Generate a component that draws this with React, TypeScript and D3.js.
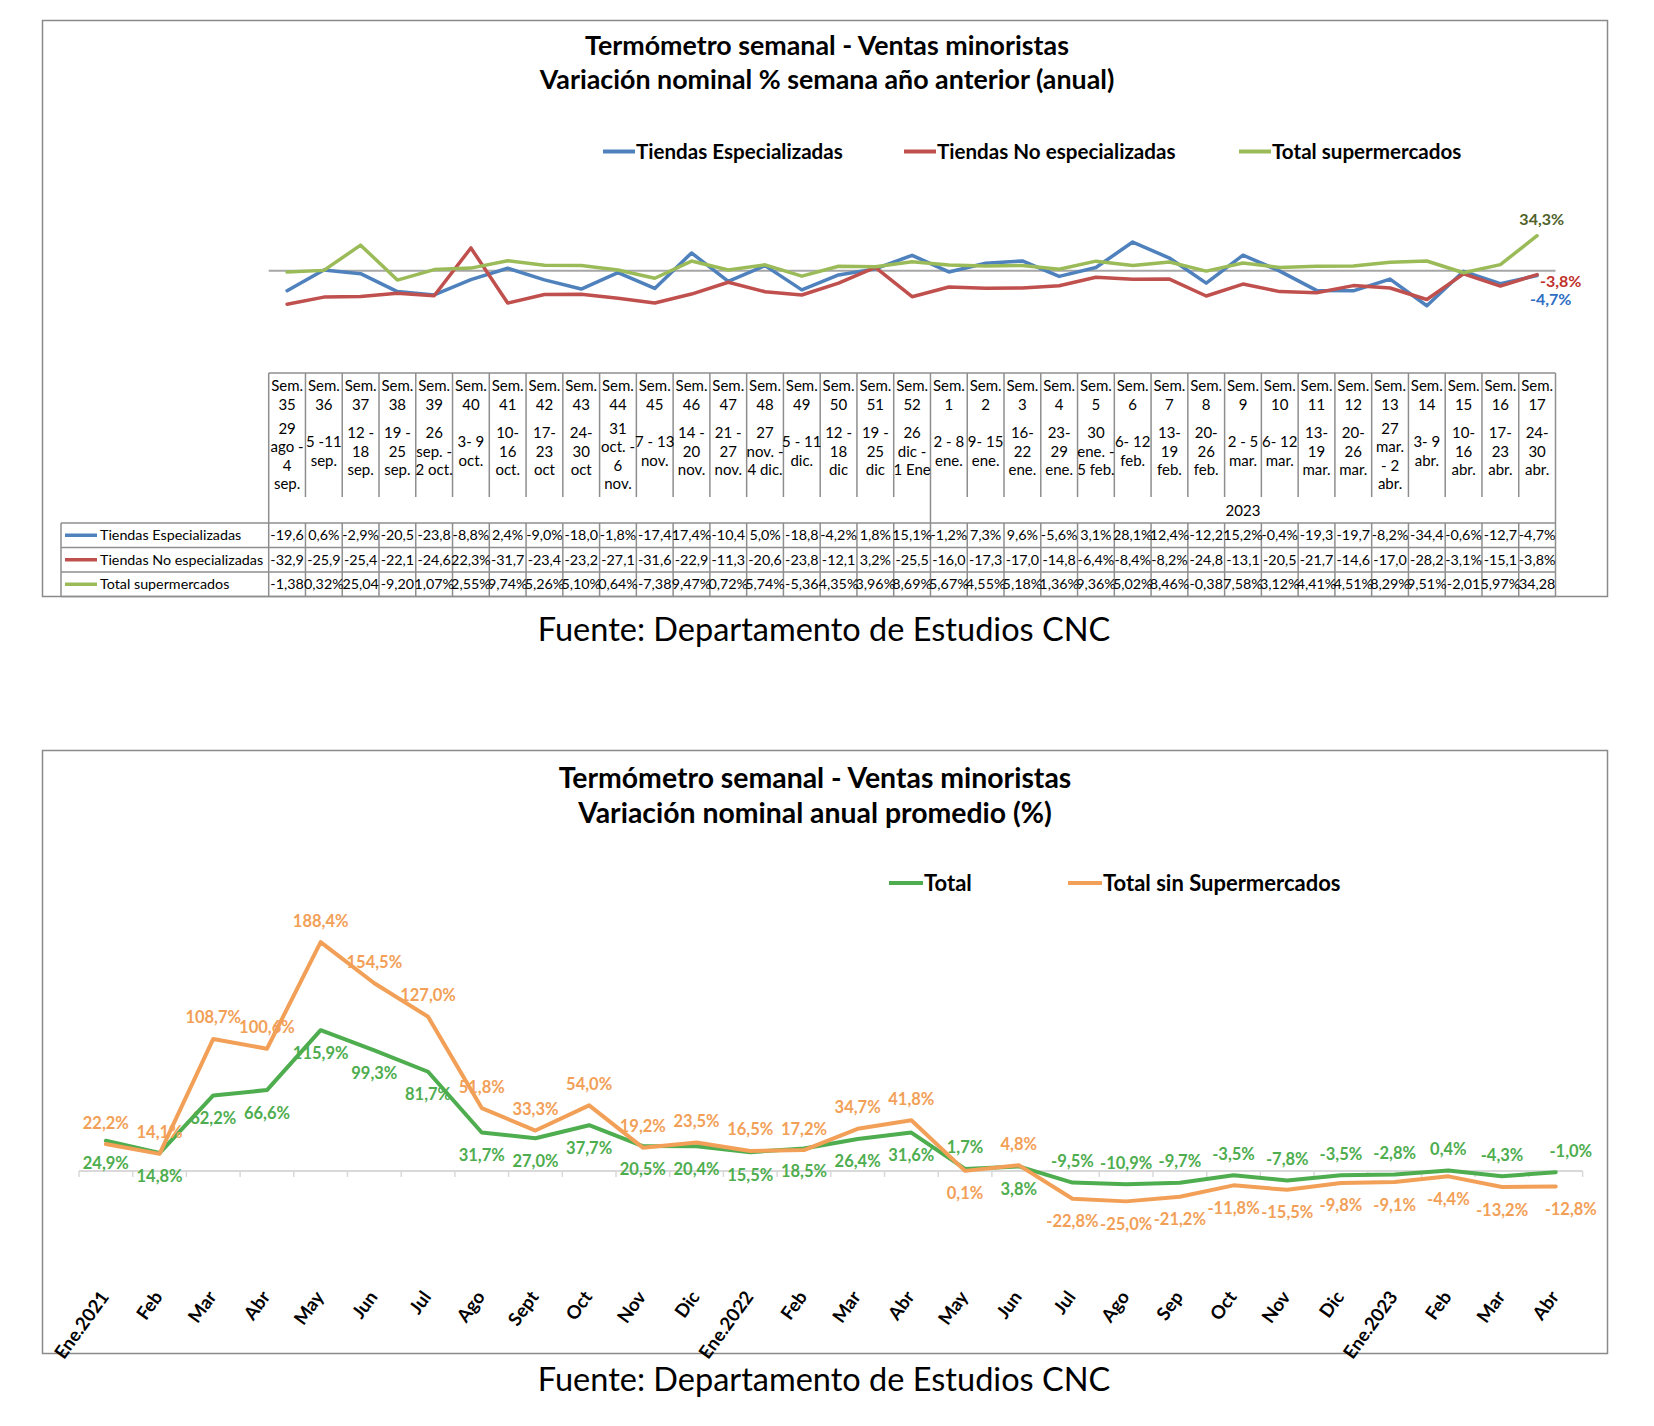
import React from 'react';
import * as d3 from 'd3';

// ---------- Top chart data ----------
const weeks = ['35','36','37','38','39','40','41','42','43','44','45','46','47','48','49','50','51','52',
  '1','2','3','4','5','6','7','8','9','10','11','12','13','14','15','16','17'];
const weekDates: string[][] = [
  ['29','ago -','4','sep.'], ['5 -11','sep.'], ['12 -','18','sep.'], ['19 -','25','sep.'],
  ['26','sep. -','2 oct.'], ['3- 9','oct.'], ['10-','16','oct.'], ['17-','23','oct'],
  ['24-','30','oct'], ['31','oct. -','6','nov.'], ['7 - 13','nov.'], ['14 -','20','nov.'],
  ['21 -','27','nov.'], ['27','nov. -','4 dic.'], ['5 - 11','dic.'], ['12 -','18','dic'],
  ['19 -','25','dic'], ['26','dic -','1 Ene'], ['2 - 8','ene.'], ['9- 15','ene.'],
  ['16-','22','ene.'], ['23-','29','ene.'], ['30','ene. -','5 feb.'], ['6- 12','feb.'],
  ['13-','19','feb.'], ['20-','26','feb.'], ['2 - 5','mar.'], ['6- 12','mar.'],
  ['13-','19','mar.'], ['20-','26','mar.'], ['27','mar.','- 2','abr.'], ['3- 9','abr.'],
  ['10-','16','abr.'], ['17-','23','abr.'], ['24-','30','abr.'],
];
const yearLabel = '2023';
const tiendasEsp = [-19.6, 0.6, -2.9, -20.5, -23.8, -8.8, 2.4, -9.0, -18.0, -1.8, -17.4, 17.4, -10.4, 5.0,
  -18.8, -4.2, 1.8, 15.1, -1.2, 7.3, 9.6, -5.6, 3.1, 28.1, 12.4, -12.2, 15.2, -0.4, -19.3, -19.7, -8.2,
  -34.4, -0.6, -12.7, -4.7];
const tiendasNoEsp = [-32.9, -25.9, -25.4, -22.1, -24.6, 22.3, -31.7, -23.4, -23.2, -27.1, -31.6, -22.9,
  -11.3, -20.6, -23.8, -12.1, 3.2, -25.5, -16.0, -17.3, -17.0, -14.8, -6.4, -8.4, -8.2, -24.8, -13.1,
  -20.5, -21.7, -14.6, -17.0, -28.2, -3.1, -15.1, -3.8];
const totalSuper = [-1.38, 0.32, 25.04, -9.20, 1.07, 2.55, 9.74, 5.26, 5.10, 0.64, -7.38, 9.47, 0.72, 5.74,
  -5.36, 4.35, 3.96, 8.69, 5.67, 4.55, 5.18, 1.36, 9.36, 5.02, 8.46, -0.38, 7.58, 3.12, 4.41, 4.51, 8.29,
  9.51, -2.01, 5.97, 34.28];
const topSeriesNames = ['Tiendas Especializadas', 'Tiendas No especializadas', 'Total supermercados'];

// ---------- Bottom chart data ----------
const months = ['Ene.2021','Feb','Mar','Abr','May','Jun','Jul','Ago','Sept','Oct','Nov','Dic',
  'Ene.2022','Feb','Mar','Abr','May','Jun','Jul','Ago','Sep','Oct','Nov','Dic','Ene.2023','Feb','Mar','Abr'];
const total = [24.9, 14.8, 62.2, 66.6, 115.9, 99.3, 81.7, 31.7, 27.0, 37.7, 20.5, 20.4, 15.5, 18.5, 26.4,
  31.6, 1.7, 3.8, -9.5, -10.9, -9.7, -3.5, -7.8, -3.5, -2.8, 0.4, -4.3, -1.0];
const totalSinSuper = [22.2, 14.1, 108.7, 100.6, 188.4, 154.5, 127.0, 51.8, 33.3, 54.0, 19.2, 23.5, 16.5,
  17.2, 34.7, 41.8, 0.1, 4.8, -22.8, -25.0, -21.2, -11.8, -15.5, -9.8, -9.1, -4.4, -13.2, -12.8];
// label side: 'a' = above point, 'b' = below point
const totalLabelSide = ['b','b','b','b','b','b','b','b','b','b','b','b','b','b','b','b','a','b',
  'a','a','a','a','a','a','a','a','a','a'];
const sinSuperLabelSide = ['a','a','a','a','a','a','a','a','a','a','a','a','a','a','a','a','b','a',
  'b','b','b','b','b','b','b','b','b','b'];
const bottomSeriesNames = ['Total', 'Total sin Supermercados'];

const FONT = "Lato, 'Open Sans', sans-serif";
const fmt = (v: number, d: number) => v.toFixed(d).replace('.', ',') + '%';
const cellText = (s: string) => (s.length > 5 ? s.slice(0, 5) : s);

export default function App() {
  const W = 1654, H = 1426;
  // top chart geometry
  const tLeft = 268.7, tRight = 1555.5, tZero = 270.7;
  const xTop = d3.scaleBand<number>().domain(d3.range(weeks.length)).range([tLeft, tRight]);
  const bw = xTop.bandwidth();
  const cxT = (i: number) => (xTop(i) as number) + bw / 2;
  const yTop = d3.scaleLinear().domain([0, 10]).range([tZero, tZero - 10.2]);
  const lineTop = d3.line<number>().x((_, i) => cxT(i)).y((v) => yTop(v));
  const topColors = ['#4F81BD', '#C0504D', '#9BBB59'];
  const topData = [tiendasEsp, tiendasNoEsp, totalSuper];
  const topDecimals = [1, 1, 2];

  const tableTop = 373, headerBottom = 497, rowsTop = 523, rowH = 24.5;
  const legLeft = 61;
  const gridColor = '#8E8E8E';

  // bottom chart geometry
  const bLeft = 79, bRight = 1582.6, bZero = 1171;
  const xBot = d3.scaleBand<number>().domain(d3.range(months.length)).range([bLeft, bRight]);
  const bbw = xBot.bandwidth();
  const cxB = (i: number) => (xBot(i) as number) + bbw / 2;
  const yBot = d3.scaleLinear().domain([0, 100]).range([bZero, bZero - 121.5]);
  const lineBot = d3.line<number>().x((_, i) => cxB(i)).y((v) => yBot(v));
  const green = '#4EAD4E', orange = '#F2A057';
  const lastIdx = months.length - 1;
  const labelDx = (i: number) => (i === lastIdx ? 15 : 0);

  const dateStep = 18.5;
  const dateCenter = (n: number) => (n >= 4 ? 456 : 451);

  return (
    <svg width={W} height={H} style={{ position: 'absolute', left: 0, top: 0, background: '#fff' }}
      fontFamily={FONT}>
      <rect x={0} y={0} width={W} height={H} fill="#fff" />
      {/* ================= TOP CHART ================= */}
      <rect x={42.5} y={20.5} width={1565} height={576} fill="#fff" stroke="#8A8A8A" strokeWidth={1.5} />
      <text x={827} y={55} textAnchor="middle" fontSize={26.8} fontWeight={700}>Termómetro semanal - Ventas minoristas</text>
      <text x={827} y={89} textAnchor="middle" fontSize={26.8} fontWeight={700}>Variación nominal % semana año anterior (anual)</text>
      {/* legend */}
      {[603, 904, 1239].map((lx, k) => (
        <g key={k}>
          <line x1={lx} x2={lx + 32} y1={151.5} y2={151.5} stroke={topColors[k]} strokeWidth={4} />
          <text x={lx + 33} y={158.5} fontSize={20.6} fontWeight={700}>{topSeriesNames[k]}</text>
        </g>
      ))}
      {/* zero line */}
      <line x1={tLeft} x2={tRight} y1={yTop(0)} y2={yTop(0)} stroke="#A6A6A6" strokeWidth={2} />
      {topData.map((s, k) => (
        <path key={k} d={lineTop(s) as string} fill="none" stroke={topColors[k]} strokeWidth={3.5}
          strokeLinejoin="round" strokeLinecap="round" />
      ))}
      {/* end labels */}
      <text x={cxT(34) + 4.6} y={yTop(totalSuper[34]) - 10.5} textAnchor="middle" fontSize={16} fontWeight={700} fill="#4F6228">{fmt(totalSuper[34], 1)}</text>
      <text x={cxT(34) + 23.6} y={yTop(tiendasNoEsp[34]) + 12} textAnchor="middle" fontSize={16} fontWeight={700} fill="#C0302B">{fmt(tiendasNoEsp[34], 1)}</text>
      <text x={cxT(34) + 13.6} y={yTop(tiendasEsp[34]) + 29.5} textAnchor="middle" fontSize={16} fontWeight={700} fill="#2E6EC4">{fmt(tiendasEsp[34], 1)}</text>

      {/* data table */}
      <g stroke={gridColor} strokeWidth={1.5}>
        <line x1={tLeft} x2={tRight} y1={tableTop} y2={tableTop} />
        {d3.range(weeks.length + 1).map((i) => {
          const x = i === weeks.length ? tRight : (xTop(i) as number);
          const full = i === 0 || i === 18 || i === weeks.length;
          return <g key={i}>
            <line x1={x} x2={x} y1={tableTop} y2={full ? rowsTop + 3 * rowH : headerBottom} />
            {!full && <line x1={x} x2={x} y1={rowsTop} y2={rowsTop + 3 * rowH} />}
          </g>;
        })}
        {d3.range(4).map((r) => (
          <line key={r} x1={legLeft} x2={tRight} y1={rowsTop + r * rowH} y2={rowsTop + r * rowH} />
        ))}
        <line x1={legLeft} x2={legLeft} y1={rowsTop} y2={rowsTop + 3 * rowH} />
      </g>
      {weeks.map((w, i) => {
        const n = weekDates[i].length;
        return (
          <g key={i} fontSize={15} textAnchor="middle">
            <text x={cxT(i)} y={390.5}>Sem.</text>
            <text x={cxT(i)} y={409.5}>{w}</text>
            {weekDates[i].map((t, j) => (
              <text key={j} x={cxT(i)} y={dateCenter(n) - ((n - 1) * dateStep) / 2 + j * dateStep + 5.5}>{t}</text>
            ))}
          </g>
        );
      })}
      <text x={((xTop(18) as number) + tRight) / 2} y={516} textAnchor="middle" fontSize={15}>{yearLabel}</text>
      {topData.map((s, k) => {
        const yc = rowsTop + k * rowH + rowH / 2;
        return (
          <g key={k}>
            <line x1={65} x2={97} y1={yc} y2={yc} stroke={topColors[k]} strokeWidth={3.5} />
            <text x={100} y={yc + 5} fontSize={14.3}>{topSeriesNames[k]}</text>
            {s.map((v, i) => (
              <text key={i} x={cxT(i)} y={yc + 5} textAnchor="middle" fontSize={14.3}>{cellText(fmt(v, topDecimals[k]))}</text>
            ))}
          </g>
        );
      })}
      <text x={824} y={641} textAnchor="middle" fontSize={32.5}>Fuente: Departamento de Estudios CNC</text>

      {/* ================= BOTTOM CHART ================= */}
      <rect x={42.5} y={750.5} width={1565} height={603} fill="#fff" stroke="#8A8A8A" strokeWidth={1.5} />
      <text x={815} y={788} textAnchor="middle" fontSize={28.4} fontWeight={700}>Termómetro semanal - Ventas minoristas</text>
      <text x={815} y={823} textAnchor="middle" fontSize={28.4} fontWeight={700}>Variación nominal anual promedio (%)</text>
      {[889, 1068].map((lx, k) => (
        <g key={k}>
          <line x1={lx} x2={lx + 34} y1={883} y2={883} stroke={k === 0 ? green : orange} strokeWidth={4} />
          <text x={lx + 35} y={891} fontSize={22} fontWeight={700}>{bottomSeriesNames[k]}</text>
        </g>
      ))}
      <line x1={bLeft} x2={bRight} y1={bZero} y2={bZero} stroke="#D9D9D9" strokeWidth={2} />
      {d3.range(months.length + 1).map((i) => {
        const x = i === months.length ? bRight : (xBot(i) as number);
        return <line key={i} x1={x} x2={x} y1={bZero} y2={bZero + 6} stroke="#D9D9D9" strokeWidth={1.5} />;
      })}
      <path d={lineBot(total) as string} fill="none" stroke={green} strokeWidth={4} strokeLinejoin="round" strokeLinecap="round" />
      <path d={lineBot(totalSinSuper) as string} fill="none" stroke={orange} strokeWidth={4} strokeLinejoin="round" strokeLinecap="round" />
      {totalSinSuper.map((v, i) => (
        <text key={'o' + i} x={cxB(i) + labelDx(i)} y={yBot(v) + (sinSuperLabelSide[i] === 'a' ? -15.5 : 28.5)}
          textAnchor="middle" fontSize={16.5} fontWeight={700} fill={orange}>{fmt(v, 1)}</text>
      ))}
      {total.map((v, i) => (
        <text key={'g' + i} x={cxB(i) + labelDx(i)} y={yBot(v) + (totalLabelSide[i] === 'a' ? -15.5 : 28.5)}
          textAnchor="middle" fontSize={16.5} fontWeight={700} fill={green}>{fmt(v, 1)}</text>
      ))}
      {months.map((m, i) => (
        <text key={i} transform={`translate(${cxB(i) + 4},${1297}) rotate(-54)`} textAnchor="end"
          fontSize={18.5} fontWeight={700}>{m}</text>
      ))}
      <text x={824} y={1391} textAnchor="middle" fontSize={32.5}>Fuente: Departamento de Estudios CNC</text>
    </svg>
  );
}
